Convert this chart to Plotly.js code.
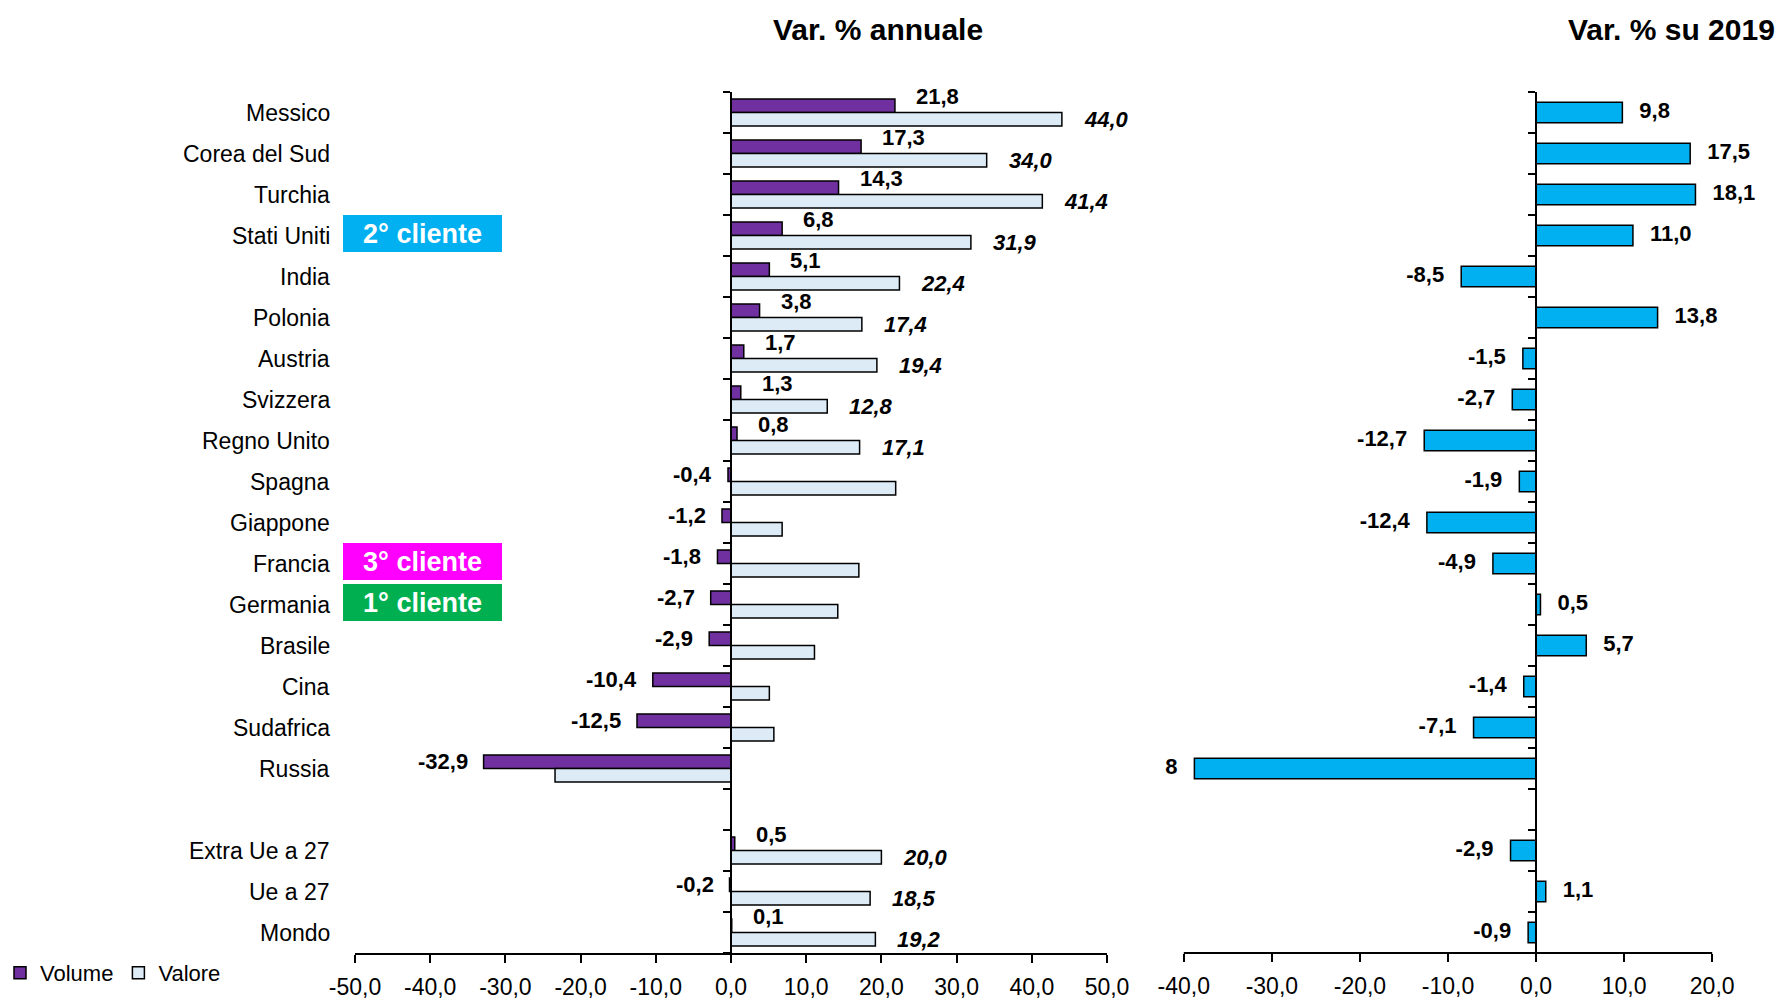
<!DOCTYPE html>
<html>
<head>
<meta charset="utf-8">
<script src="https://cdn.plot.ly/plotly-3.0.1.min.js"></script>
<style>html,body{margin:0;padding:0;background:#fff;}#chart{width:1780px;height:1001px;}</style>
</head>
<body>
<div id="chart"></div>
<script>
// ---------------- DATA ----------------
const categories = ['Messico','Corea del Sud','Turchia','Stati Uniti','India','Polonia','Austria','Svizzera','Regno Unito','Spagna','Giappone','Francia','Germania','Brasile','Cina','Sudafrica','Russia','','Extra Ue a 27','Ue a 27','Mondo'];
const volume  = [21.8, 17.3, 14.3, 6.8, 5.1, 3.8, 1.7, 1.3, 0.8, -0.4, -1.2, -1.8, -2.7, -2.9, -10.4, -12.5, -32.9, null, 0.5, -0.2, 0.1];
const valore  = [44.0, 34.0, 41.4, 31.9, 22.4, 17.4, 19.4, 12.8, 17.1, 21.9, 6.8, 17.0, 14.2, 11.1, 5.1, 5.7, -23.4, null, 20.0, 18.5, 19.2];
const valoreLabelShown = [1,1,1,1,1,1,1,1,1,0,0,0,0,0,0,0,0,0,1,1,1];
const var2019 = [9.8, 17.5, 18.1, 11.0, -8.5, 13.8, -1.5, -2.7, -12.7, -1.9, -12.4, -4.9, 0.5, 5.7, -1.4, -7.1, -38.8, null, -2.9, 1.1, -0.9];
const seriesNames = ['Volume', 'Valore'];
const titles = ['Var. % annuale', 'Var. % su 2019'];
const highlightCats   = ['Stati Uniti', 'Francia', 'Germania'];
const highlightTexts  = ['2° cliente', '3° cliente', '1° cliente'];
const highlightColors = ['#00B0F0', '#FF00FF', '#00B050'];
const leftTicks  = [-50, -40, -30, -20, -10, 0, 10, 20, 30, 40, 50];
const rightTicks = [-40, -30, -20, -10, 0, 10, 20];
const leftRange  = [-50, 50];
const rightRange = [-42.25, 27.7];

// ---------------- LAYOUT HELPERS ----------------
const W = 1780, H = 1001;
const FONT = "'Liberation Sans', Arial, sans-serif";
const px = v => v / W;
const py = v => 1 - v / H;
const plotTop = 92, plotBot = 953;
const leftDom = [px(355), px(1107)];
const rightDom = [px(1164), px(1780)];
const idx = categories.map((c, i) => i);
const fmt = v => v.toFixed(1).replace('.', ',');

function zeroPos(dom, range) {
  return dom[0] + (dom[1] - dom[0]) * (0 - range[0]) / (range[1] - range[0]);
}
const rightPxPerUnit = (rightDom[1] - rightDom[0]) * W / (rightRange[1] - rightRange[0]);

const traces = [
  {
    type: 'bar', orientation: 'h', name: seriesNames[0],
    x: volume, y: idx, xaxis: 'x', yaxis: 'y',
    width: 0.33, offset: -0.33,
    marker: {color: '#7030A0', line: {color: '#000', width: 1.5}},
    hoverinfo: 'skip'
  },
  {
    type: 'bar', orientation: 'h', name: seriesNames[1],
    x: valore, y: idx, xaxis: 'x', yaxis: 'y',
    width: 0.33, offset: 0,
    marker: {color: '#DDEBF7', line: {color: '#000', width: 1.5}},
    hoverinfo: 'skip'
  },
  {
    type: 'bar', orientation: 'h', name: titles[1], showlegend: false,
    x: var2019, y: idx, xaxis: 'x2', yaxis: 'y2',
    width: 0.5, offset: -0.25,
    marker: {color: '#00B0F0', line: {color: '#000', width: 1.5}},
    hoverinfo: 'skip'
  }
];

// right-chart value labels as clipped text (the Russia label is cut by the plot edge)
const gap2 = 17 / rightPxPerUnit;
traces.push({
  type: 'scatter', mode: 'text', showlegend: false, hoverinfo: 'skip',
  xaxis: 'x2', yaxis: 'y2', cliponaxis: true,
  x: var2019.map(v => v === null ? null : (v < 0 ? v - gap2 : v + gap2)),
  y: idx,
  text: var2019.map(v => v === null ? '' : fmt(v)),
  textposition: var2019.map(v => (v !== null && v < 0) ? 'middle left' : 'middle right'),
  textfont: {family: FONT, size: 22, color: '#000', weight: 'bold'}
});

const annotations = [];
// category labels
categories.forEach((c, i) => {
  if (!c) return;
  annotations.push({
    text: c, xref: 'paper', yref: 'y', x: px(332), y: i,
    xanchor: 'right', yanchor: 'middle', showarrow: false,
    font: {family: FONT, size: 23, color: '#000'}
  });
});
// volume labels
volume.forEach((v, i) => {
  if (v === null) return;
  const pos = v >= 0;
  annotations.push({
    text: fmt(v), xref: 'x', yref: 'y', x: v, y: i - 0.165,
    xanchor: pos ? 'left' : 'right', yanchor: 'middle',
    xshift: pos ? 19 : -14, yshift: pos ? 9 : 0, showarrow: false,
    font: {family: FONT, size: 22, color: '#000', weight: 'bold'}
  });
});
// valore labels
valore.forEach((v, i) => {
  if (v === null || !valoreLabelShown[i]) return;
  annotations.push({
    text: fmt(v), xref: 'x', yref: 'y', x: v, y: i + 0.165,
    xanchor: 'left', yanchor: 'middle', xshift: 20, showarrow: false,
    font: {family: FONT, size: 22, color: '#000', weight: 'bold', style: 'italic'}
  });
});
// highlight boxes
highlightCats.forEach((c, k) => {
  annotations.push({
    text: highlightTexts[k], xref: 'paper', yref: 'y',
    x: px(343), y: categories.indexOf(c), xanchor: 'left', yanchor: 'middle',
    yshift: 2, showarrow: false, width: 155, height: 33, borderpad: 2, borderwidth: 0,
    bgcolor: highlightColors[k], align: 'center',
    font: {family: FONT, size: 27, color: '#fff', weight: 'bold'}
  });
});
// titles
annotations.push({
  text: titles[0], xref: 'paper', yref: 'paper', x: px(878), y: py(29),
  xanchor: 'center', yanchor: 'middle', showarrow: false,
  font: {family: FONT, size: 30, color: '#000', weight: 'bold'}
});
annotations.push({
  text: titles[1], xref: 'paper', yref: 'paper', x: px(1777), y: py(29),
  xanchor: 'right', yanchor: 'middle', showarrow: false,
  font: {family: FONT, size: 30, color: '#000', weight: 'bold'}
});

const boundaries = [];
for (let i = 0; i <= categories.length; i++) boundaries.push(i - 0.5);

const yCommon = {
  type: 'linear', range: [categories.length - 0.5, -0.5], domain: [py(plotBot), py(plotTop)],
  showgrid: false, zeroline: false, showline: true, linecolor: '#000', linewidth: 2,
  ticks: 'outside', ticklen: 7, tickwidth: 1.5, tickcolor: '#000',
  tickmode: 'array', tickvals: boundaries, showticklabels: false, anchor: 'free', fixedrange: true
};
const xCommon = {
  showgrid: false, zeroline: false, ticks: 'outside', ticklen: 8, tickwidth: 2, tickcolor: '#000',
  tickmode: 'array', ticklabelstandoff: 4,
  tickfont: {family: FONT, size: 23, color: '#000'}, fixedrange: true
};

const layout = {
  width: W, height: H, margin: {l: 0, r: 0, t: 0, b: 0},
  paper_bgcolor: '#fff', plot_bgcolor: 'rgba(0,0,0,0)',
  barmode: 'overlay', showlegend: true,
  font: {family: FONT, color: '#000'},
  legend: {
    orientation: 'h', x: 0, xanchor: 'left', y: py(973), yanchor: 'middle',
    font: {family: FONT, size: 22, color: '#000'}, itemwidth: 30, tracegroupgap: 0,
    bgcolor: 'rgba(0,0,0,0)'
  },
  xaxis: Object.assign({}, xCommon, {domain: leftDom, range: leftRange, anchor: 'y',
    tickvals: leftTicks, ticktext: leftTicks.map(fmt),
    showline: true, linecolor: '#000', linewidth: 2}),
  yaxis: Object.assign({}, yCommon, {position: zeroPos(leftDom, leftRange)}),
  xaxis2: Object.assign({}, xCommon, {domain: rightDom, range: rightRange, anchor: 'y2',
    tickvals: rightTicks, ticktext: rightTicks.map(fmt), showline: false}),
  yaxis2: Object.assign({}, yCommon, {position: zeroPos(rightDom, rightRange)}),
  shapes: [{
    type: 'line', xref: 'x2', yref: 'y2 domain',
    x0: rightTicks[0], x1: rightTicks[rightTicks.length - 1], y0: 0, y1: 0,
    line: {color: '#000', width: 2}
  }],
  annotations: annotations
};

Plotly.newPlot('chart', traces, layout, {displayModeBar: false, staticPlot: true});
</script>
</body>
</html>
